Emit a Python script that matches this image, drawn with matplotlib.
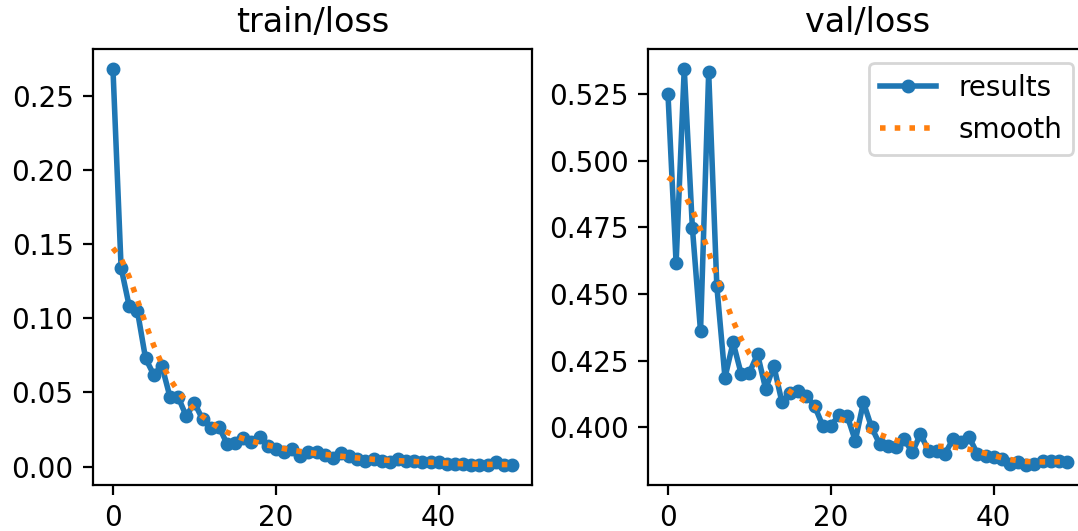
import numpy as np
import matplotlib.pyplot as plt

# epochs 0..49
epochs = np.arange(50)

train_loss = [0.268, 0.134, 0.108, 0.105, 0.073, 0.062, 0.068, 0.047, 0.047, 0.034,
              0.043, 0.032, 0.026, 0.027, 0.0155, 0.016, 0.019, 0.0165, 0.020, 0.014,
              0.012, 0.0097, 0.012, 0.0074, 0.010, 0.010, 0.008, 0.006, 0.009, 0.007,
              0.005, 0.004, 0.005, 0.004, 0.003, 0.005, 0.004, 0.004, 0.003, 0.003,
              0.003, 0.002, 0.002, 0.002, 0.001, 0.001, 0.001, 0.003, 0.001, 0.001]

val_loss = [0.5253, 0.4615, 0.5346, 0.4749, 0.4360, 0.5333, 0.4530, 0.4186, 0.4318, 0.4199,
            0.4205, 0.4274, 0.4143, 0.4230, 0.4093, 0.4130, 0.4136, 0.4117, 0.4080, 0.4005,
            0.4005, 0.4045, 0.4043, 0.3949, 0.4093, 0.3999, 0.3936, 0.3930, 0.3924, 0.3955,
            0.3905, 0.3974, 0.3911, 0.3911, 0.3899, 0.3955, 0.3943, 0.3961, 0.3899, 0.3892,
            0.3886, 0.3880, 0.3861, 0.3868, 0.3857, 0.3861, 0.3874, 0.3874, 0.3874, 0.3868]

titles = ['train/loss', 'val/loss']


# gaussian smoothing (sigma=3, reflect edges)
def smooth(y, sigma=3):
    y = np.asarray(y, dtype=float)
    r = int(4 * sigma + 0.5)
    k = np.exp(-0.5 * (np.arange(-r, r + 1) / sigma) ** 2)
    k /= k.sum()
    return np.convolve(np.pad(y, r, mode='symmetric'), k, mode='valid')


W, H = 1078, 531
DPI = 200
fig = plt.figure(figsize=(W / DPI, H / DPI), dpi=DPI)

ax1 = fig.add_axes([93 / W, 1 - 485 / H, 439 / W, 436 / H])
ax2 = fig.add_axes([648 / W, 1 - 485 / H, 439 / W, 436 / H])

for ax, y, t in zip([ax1, ax2], [train_loss, val_loss], titles):
    ax.plot(epochs, y, marker='.', label='results', linewidth=2, markersize=8)
    ax.plot(epochs, smooth(y), ':', label='smooth', linewidth=2)
    ax.set_title(t, fontsize=12)

ax2.legend()

fig.savefig('out.png', dpi=DPI)
